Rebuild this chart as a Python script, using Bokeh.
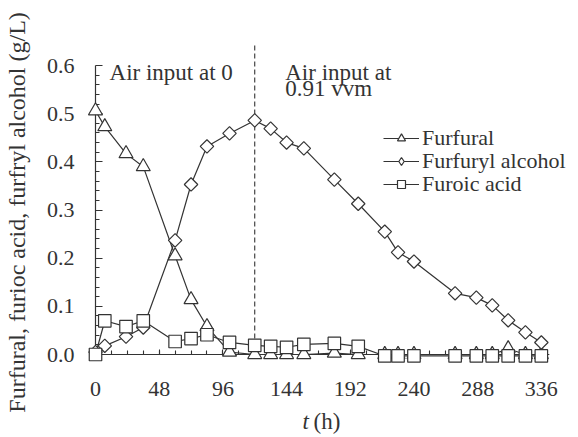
import math
from bokeh.plotting import figure
from bokeh.models import Range1d, FixedTicker, Legend, LegendItem, NumeralTickFormatter
from bokeh.core.properties import value
from bokeh.embed import file_html
from bokeh.resources import INLINE

# ---- data ----
t_h = [0, 7, 23, 36, 60, 72, 84, 101, 120, 132, 144, 157, 180, 198,
       218, 228, 240, 271, 287, 299, 311, 324, 336]
furfural = [0.506, 0.473, 0.417, 0.390, 0.205, 0.114, 0.058, 0.005, 0.0, 0.0,
            0.0, 0.0, 0.003, 0.0, 0.0, 0.0, 0.0, 0.0, 0.0, 0.0, 0.012, 0.0, 0.0]
furfuryl_alcohol = [0.005, 0.018, 0.037, 0.056, 0.237, 0.353, 0.432, 0.459, 0.486,
                    0.469, 0.440, 0.428, 0.363, 0.313, 0.255, 0.212, 0.193, 0.127,
                    0.118, 0.102, 0.071, 0.046, 0.025]
furoic_acid = [0.0, 0.070, 0.058, 0.070, 0.027, 0.033, 0.041, 0.025, 0.019, 0.017,
               0.015, 0.021, 0.023, 0.017, -0.003, -0.003, -0.003, -0.003, -0.003,
               -0.003, -0.003, -0.003, -0.003]
series_names = ["Furfural", "Furfuryl alcohol", "Furoic acid"]

x_ticks = [0, 48, 96, 144, 192, 240, 288, 336]
x_minor_ticks = [0, 12, 24, 36, 48, 60, 72, 84, 96, 108, 120, 132, 144, 156, 168, 180,
                 192, 204, 216, 228, 240, 252, 264, 276, 288, 300, 312, 324, 336]
y_ticks = [0.0, 0.1, 0.2, 0.3, 0.4, 0.5, 0.6]
y_minor_ticks = [0.02, 0.04, 0.06, 0.08, 0.12, 0.14, 0.16, 0.18, 0.22, 0.24, 0.26, 0.28,
                 0.32, 0.34, 0.36, 0.38, 0.42, 0.44, 0.46, 0.48, 0.52, 0.54, 0.56, 0.58]
air_switch_t = 120
x_axis_end = 342

FONT = "Liberation Serif"
INK = "#333333"

p = figure(width=578, height=437, x_range=Range1d(0, 364), y_range=Range1d(0, 0.6),
           output_backend="svg", toolbar_location=None,
           min_border_left=95, min_border_right=0, min_border_top=65, min_border_bottom=83)
p.outline_line_color = None
p.grid.visible = False
p.background_fill_color = "white"
p.border_fill_color = "white"

xa = p.xaxis[0]
ya = p.yaxis[0]
xa.ticker = FixedTicker(ticks=x_ticks, minor_ticks=x_minor_ticks)
ya.ticker = FixedTicker(ticks=y_ticks, minor_ticks=y_minor_ticks)
ya.formatter = NumeralTickFormatter(format="0.0")
for ax in (xa, ya):
    ax.axis_line_color = INK
    ax.axis_line_width = 1.2
    ax.major_tick_line_color = INK
    ax.minor_tick_line_color = INK
    ax.major_tick_line_width = 1.1
    ax.minor_tick_line_width = 1.1
    ax.major_tick_out = 0
    ax.minor_tick_out = 0
    ax.major_label_text_font = FONT
    ax.major_label_text_font_size = "22px"
    ax.major_label_text_color = INK
xa.axis_line_color = None  # drawn below, it stops a little after 336 h
xa.major_tick_in = 5
xa.minor_tick_in = 4
ya.major_tick_in = 7
ya.minor_tick_in = 4
ya.major_label_standoff = 21
xa.major_label_standoff = 27

# x axis line
p.segment(x0=[0], y0=[0], x1=[x_axis_end], y1=[0], line_color=INK, line_width=1.2,
          level="overlay")
# switch line
p.segment(x0=[air_switch_t], y0=[0], x1=[air_switch_t], y1=[0.645], line_color=INK,
          line_width=1.1, line_dash="5 3", level="overlay")

lw = 1.2
l1 = p.line(t_h, furfural, line_color=INK, line_width=lw, level="overlay")
l2 = p.line(t_h, furfuryl_alcohol, line_color=INK, line_width=lw, level="overlay")
l3 = p.line(t_h, furoic_acid, line_color=INK, line_width=lw, level="overlay")
s1 = p.scatter(t_h, furfural, marker="triangle", size=14, line_color=INK, line_width=lw,
               fill_color="white", level="overlay")
# narrow diamond used as the legend key; fully covered by the wider diamonds drawn next
s2_key = p.scatter(t_h, furfuryl_alcohol, marker="diamond", size=10, line_color=INK,
                   line_width=lw, fill_color="white", level="overlay")
s2 = p.scatter(t_h, furfuryl_alcohol, marker="square", angle=math.pi / 4, size=9.5,
               line_color=INK, line_width=lw, fill_color="white", level="overlay")
s3 = p.scatter(t_h, furoic_acid, marker="square", size=12.5, line_color=INK, line_width=lw,
               fill_color="white", level="overlay")

# one legend box per row so the rows sit as closely as in the reference
legend_rows = [(series_names[0], [l1, s1], 203.5),
               (series_names[1], [l2, s2_key], 180.5),
               (series_names[2], [l3, s3], 157.5)]
for label, rends, vy in legend_rows:
    lg = Legend(items=[LegendItem(label=label, renderers=rends)], location=(288, vy))
    lg.label_text_font = FONT
    lg.label_text_font_size = "22px"
    lg.label_text_color = INK
    lg.glyph_width = 36
    lg.glyph_height = 20
    lg.label_standoff = 3
    lg.spacing = 0
    lg.padding = 0
    lg.margin = 0
    lg.border_line_color = None
    lg.background_fill_alpha = 0
    p.add_layout(lg)

txt = dict(text_font=value(FONT), text_color=INK, text_font_size="23px", level="overlay")
p.text(x=[10.6, 143], y=[0.5854, 0.5854], text=["Air input at 0", "Air input at"],
       text_baseline="alphabetic", **txt)
p.text(x=[143], y=[0.552], text=["0.91 vvm"], text_baseline="alphabetic", **txt)

# x axis title: italic t + (h)
p.text(x=[156], y=[-0.139], text=["t"], text_baseline="alphabetic",
       text_font_style="italic", **txt)
p.text(x=[164.3], y=[-0.139], text=["(h)"], text_baseline="alphabetic", **txt)

# y axis title
p.text(x=[-58.8], y=[0.295], text=["Furfural, furioc acid, furfryl alcohol (g/L)"],
       angle=math.pi / 2, text_align="center", text_baseline="middle",
       text_font=value(FONT), text_color=INK, text_font_size="24px", level="overlay")

open("out.html", "w").write(file_html(p, INLINE))
